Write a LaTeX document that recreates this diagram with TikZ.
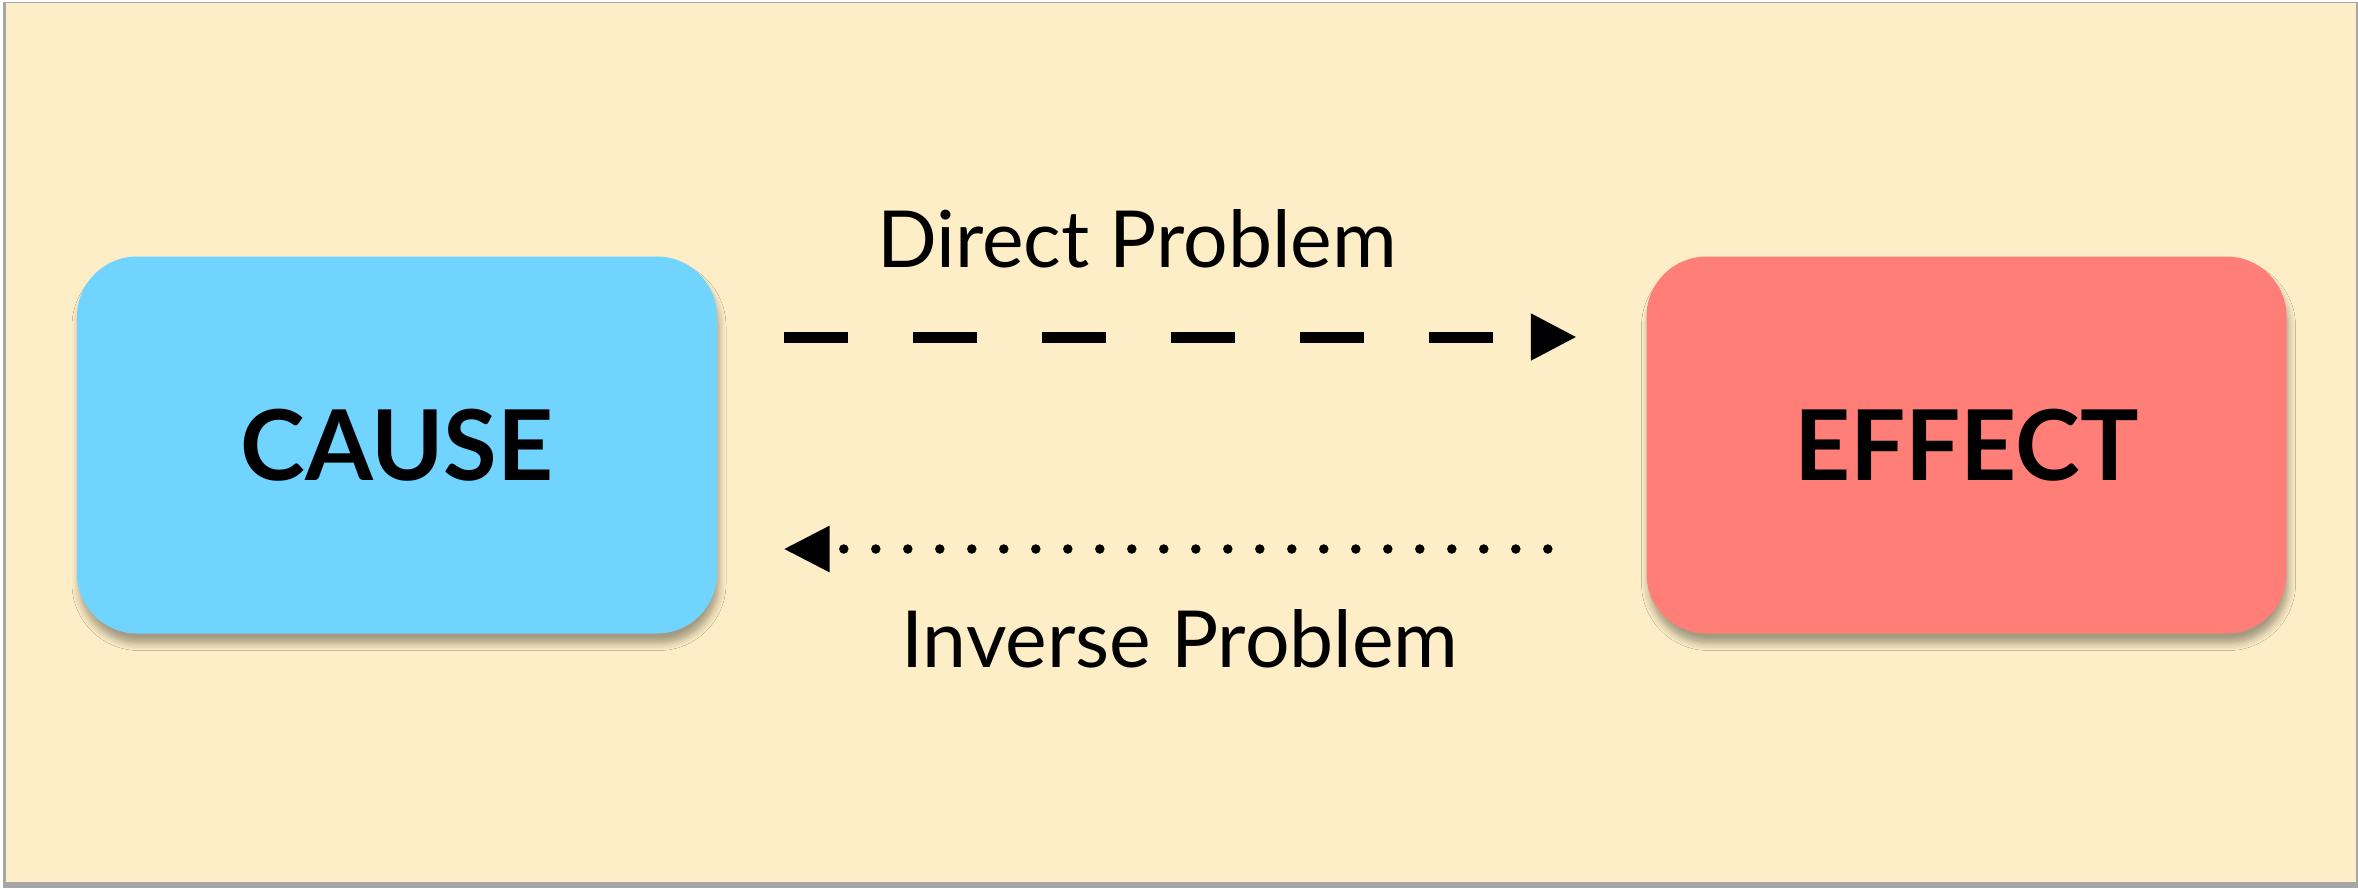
\documentclass[tikz,border=0pt]{standalone}
\usepackage{fontspec}
\setmainfont{Lato}
\usetikzlibrary{arrows.meta,shadows.blur}
\definecolor{paper}{RGB}{253,238,199}
\definecolor{causeblue}{RGB}{113,212,254}
\definecolor{effectred}{RGB}{255,127,120}

\begin{document}
\begin{tikzpicture}[>={Triangle[length=4.6mm,width=4.4mm]},
  box/.style={rounded corners=6mm, minimum width=6.4cm, minimum height=3.77cm,
    blur shadow={shadow xshift=0.2mm,shadow yshift=-1mm,shadow blur steps=6,shadow opacity=35,shadow blur radius=0.7mm},
    font=\bfseries\fontsize{27.8}{30}\selectfont},
  lbl/.style={anchor=base, font=\fontsize{22.4}{26}\selectfont}]
\useasboundingbox (0,0) rectangle (23.58,8.88);
\fill[gray!70] (0.03,0) rectangle (23.58,8.86);
\fill[paper] (0.06,0.06) rectangle (23.56,8.85);
\node[box,fill=causeblue](cause) at (3.97,4.43){CAUSE};
\node[box,fill=effectred](effect) at (19.665,4.43){EFFECT};
\draw[->,line width=1.1mm,dash pattern=on 6.4mm off 6.5mm,shorten <=0.66cm,shorten >=0.69cm]([yshift=10.8mm]cause.east)--([yshift=10.8mm]effect.west);
\draw[->,line width=0.95mm,line cap=round,dash pattern=on 0pt off 3.2mm,shorten <=0.98cm,shorten >=0.66cm]([yshift=-10.4mm]effect.west)--([yshift=-10.4mm]cause.east);
\node[lbl](direct) at (11.37,6.21){Direct Problem};
\node[lbl](inverse) at (11.80,2.21){Inverse Problem};
\end{tikzpicture}
\end{document}
